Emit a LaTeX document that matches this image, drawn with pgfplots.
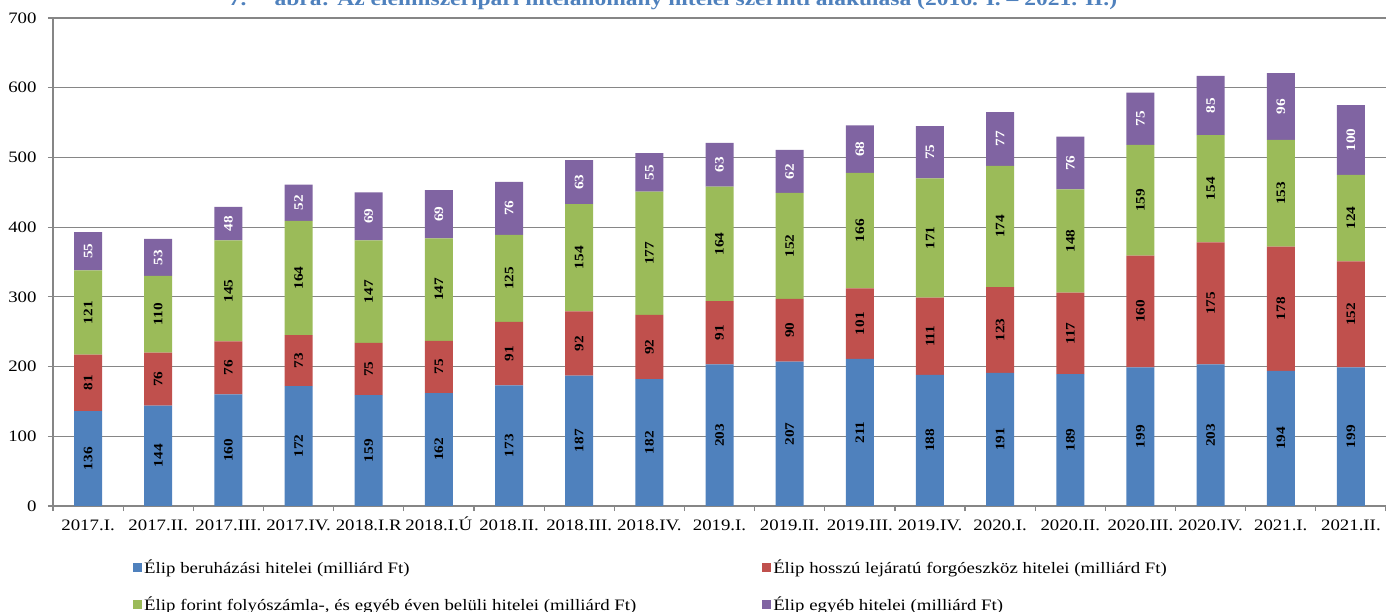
\documentclass[border=0pt]{standalone}
\usepackage{pgfplots}
\pgfplotsset{compat=1.18}
\usepackage{pgfplotstable}
\usepackage{fontspec}
\setmainfont[FakeStretch=1.18]{Liberation Serif}
\definecolor{cblue}{HTML}{4F81BD}
\definecolor{cred}{HTML}{C0504D}
\definecolor{cgreen}{HTML}{9BBB59}
\definecolor{cpurple}{HTML}{8064A2}
\definecolor{gridgray}{HTML}{868686}
\definecolor{titleblue}{HTML}{4F81BD}

\pgfplotstableread{
x a b c d
0 136 81 121 55
1 144 76 110 53
2 160 76 145 48
3 172 73 164 52
4 159 75 147 69
5 162 75 147 69
6 173 91 125 76
7 187 92 154 63
8 182 92 177 55
9 203 91 164 63
10 207 90 152 62
11 211 101 166 68
12 188 111 171 75
13 191 123 174 77
14 189 117 148 76
15 199 160 159 75
16 203 175 154 85
17 194 178 153 96
18 199 152 124 100
}\data

\pgfplotsset{
  /pgf/number format/assume math mode=true,
  base/.style={
    scale only axis, width=1333bp, height=488bp,
    xmin=-0.5, xmax=18.5, ymin=0, ymax=700,
    at={(53bp,106bp)}, anchor=south west,
  },
  lsq/.style={legend image code/.code={\fill[##1] (0bp,-4.5bp) rectangle (9bp,4.5bp);}},
}

\begin{document}
\begin{tikzpicture}
\path[use as bounding box] (0,0) rectangle (1386bp,612bp);
\clip (0,0) rectangle (1386bp,612bp);
\node[anchor=base, text=titleblue, font=\fontsize{20}{22}\selectfont\bfseries] at (673bp,606bp) {7.\hspace{28bp}ábra: Az élelmiszeripari hitelállomány hitelei szerinti alakulása (2016. I. – 2021. II.)};
\begin{axis}[base,
  ybar stacked, bar width=28bp,
  axis x line*=bottom, axis y line*=left,
  axis line style={gridgray, line width=1.2bp},
  ymajorgrids, grid style={gridgray, line width=1.2bp},
  ytick={0,100,...,700},
  xtick={0,...,18},
  xticklabels={2017.I., 2017.II., 2017.III., 2017.IV., 2018.I.R, 2018.I.Ú, 2018.II., 2018.III., 2018.IV., 2019.I., 2019.II., 2019.III., 2019.IV., 2020.I., 2020.II., 2020.III., 2020.IV., 2021.I., 2021.II.},
  minor xtick={-0.5,0.5,...,18.5},
  tick align=outside,
  major tick length=5bp, minor tick length=5bp,
  tick style={gridgray, line width=1.2bp},
  major x tick style={draw=none},
  ticklabel style={font=\fontsize{16}{18}\selectfont},
  xticklabel style={text height=11bp, text depth=3.5bp, yshift=-5bp},
  yticklabel style={xshift=-8bp},
  legend columns=2,
  legend cell align=left,
  legend style={draw=none, fill=none, at={(0.0578,-0.102)}, anchor=north west,
    font=\fontsize{16}{18}\selectfont, row sep=18bp,
    /tikz/every even column/.append style={column sep=124bp}},
]
\addplot[fill=cblue, draw=none, lsq] table[x=x,y=a]{\data};
\addlegendentry{Élip beruházási hitelei (milliárd Ft)}
\addplot[fill=cred, draw=none, lsq] table[x=x,y=b]{\data};
\addlegendentry{Élip hosszú lejáratú forgóeszköz hitelei (milliárd Ft)}
\addplot[fill=cgreen, draw=none, lsq] table[x=x,y=c]{\data};
\addlegendentry{Élip forint folyószámla-, és egyéb éven belüli hitelei (milliárd Ft)}
\addplot[fill=cpurple, draw=none, lsq] table[x=x,y=d]{\data};
\addlegendentry{Élip egyéb hitelei (milliárd Ft)}
\end{axis}
\begin{axis}[base, hide axis,
  nodes near coords, point meta=explicit,
  every node near coord/.append style={rotate=90, anchor=center, font=\fontsize{13}{14}\selectfont\bfseries},
]
\addplot[draw=none] table[x=x, y expr=\thisrow{a}/2, meta=a]{\data};
\addplot[draw=none] table[x=x, y expr=\thisrow{a}+\thisrow{b}/2, meta=b]{\data};
\addplot[draw=none] table[x=x, y expr=\thisrow{a}+\thisrow{b}+\thisrow{c}/2, meta=c]{\data};
\addplot[draw=none, nodes near coords style={text=white}] table[x=x, y expr=\thisrow{a}+\thisrow{b}+\thisrow{c}+\thisrow{d}/2, meta=d]{\data};
\end{axis}
\end{tikzpicture}
\end{document}
